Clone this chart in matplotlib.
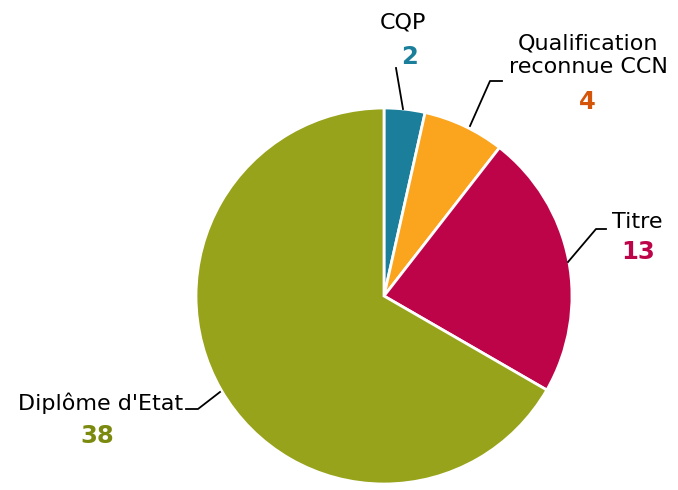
import matplotlib
matplotlib.use('Agg')
import matplotlib.pyplot as plt

labels = ['CQP', 'Qualification\nreconnue CCN', 'Titre', "Diplôme d'Etat"]
values = [2, 4, 13, 38]
colors = ['#1b7f9b', '#fba41e', '#be0449', '#97a31a']
num_colors = ['#1b7f9b', '#d4540a', '#be0449', '#7b8a0e']

W, H = 678, 490
fig = plt.figure(figsize=(W / 100, H / 100), dpi=100)
ax = fig.add_axes([0, 0, 1, 1])

cx, cy, r = 384, H - 296, 188
ax.pie(values, colors=colors, startangle=90, counterclock=False,
       center=(cx, cy), radius=r, frame=True,
       wedgeprops=dict(edgecolor='white', linewidth=2))
ax.set_xlim(0, W)
ax.set_ylim(0, H)
ax.set_aspect('equal')
ax.axis('off')

def py(y):
    return H - y

# label positions (pixel coords from top-left)
txt = [(403, 23, 'center'), (588, 55, 'center'), (637, 222, 'center'), (183, 403, 'right')]
num = [(410, 57), (587, 102), (638, 252), (97, 436)]
leaders = [
    [(403, 109), (396, 68)],
    [(470, 126), (490, 81), (502, 81)],
    [(568, 262), (596, 229), (606, 229)],
    [(220, 392), (198, 409), (186, 409)],
]

for i in range(len(values)):
    x, y, ha = txt[i]
    ax.text(x, py(y), labels[i], ha=ha, va='center', fontsize=16,
            color='black', linespacing=1.2)
    nx, ny = num[i]
    ax.text(nx, py(ny), str(values[i]), ha='center', va='center',
            fontsize=17.5, fontweight='bold', color=num_colors[i])
    pts = leaders[i]
    ax.plot([p[0] for p in pts], [py(p[1]) for p in pts], color='black', lw=1.3)

fig.savefig('out.png', dpi=100)
